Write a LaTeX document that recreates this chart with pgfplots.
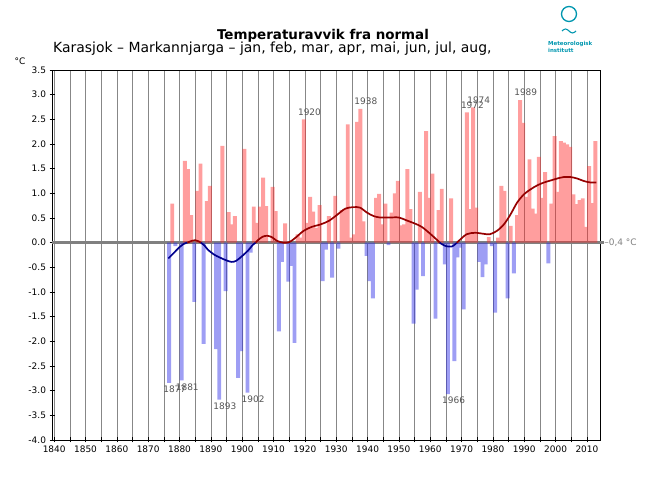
\documentclass[border=0pt]{standalone}
\usepackage{pgfplots}
\pgfplotsset{compat=1.18}
\usepackage{pgfplotstable}
\usepackage{fontspec}
\setmainfont{DejaVu Sans}
\definecolor{barred}{RGB}{255,40,40}
\definecolor{barblue}{RGB}{40,40,230}
\definecolor{curvered}{RGB}{150,0,0}
\definecolor{curveblue}{RGB}{0,0,140}
\definecolor{gridgray}{RGB}{135,135,135}
\definecolor{zerogray}{RGB}{128,128,128}
\definecolor{labgray}{RGB}{85,85,85}
\definecolor{logoteal}{RGB}{0,150,175}

\pgfplotstableread{
year val
1878 0.79
1882 1.66
1883 1.49
1884 0.56
1886 1.05
1887 1.60
1889 0.84
1890 1.15
1894 1.96
1896 0.62
1897 0.37
1898 0.54
1901 1.90
1904 0.73
1905 0.40
1906 0.73
1907 1.32
1908 0.74
1910 1.13
1911 0.64
1914 0.39
1918 0.17
1919 0.10
1920 2.50
1921 0.40
1922 0.93
1923 0.63
1924 0.30
1925 0.76
1928 0.54
1930 0.95
1932 0.66
1933 0.68
1934 2.40
1935 0.10
1936 0.17
1937 2.45
1938 2.71
1939 0.43
1943 0.91
1944 0.99
1945 0.37
1946 0.79
1948 0.61
1949 1.00
1950 1.25
1951 0.35
1952 0.37
1953 1.49
1954 0.68
1957 1.03
1959 2.26
1960 0.91
1961 1.40
1963 0.66
1964 1.09
1967 0.90
1972 2.64
1973 0.68
1974 2.74
1975 0.71
1979 0.11
1982 0.10
1983 1.15
1984 1.05
1986 0.34
1988 0.56
1989 2.89
1990 2.43
1991 0.93
1992 1.69
1993 0.69
1994 0.59
1995 1.74
1996 0.91
1997 1.43
1999 0.79
2000 2.16
2001 1.03
2002 2.06
2003 2.03
2004 1.99
2005 1.94
2006 0.98
2007 0.78
2008 0.86
2009 0.90
2010 0.32
2011 1.55
2012 0.80
2013 2.06
}\posdata

\pgfplotstableread{
year val
1877 -2.84
1879 -0.07
1881 -2.79
1885 -1.20
1888 -2.05
1892 -2.16
1893 -3.18
1895 -0.98
1899 -2.74
1900 -2.20
1902 -3.04
1903 -0.20
1912 -1.80
1913 -0.39
1915 -0.79
1916 -0.47
1917 -2.03
1926 -0.78
1927 -0.14
1929 -0.71
1931 -0.12
1940 -0.27
1941 -0.78
1942 -1.13
1947 -0.05
1955 -1.64
1956 -0.95
1958 -0.68
1962 -1.54
1965 -0.44
1966 -3.07
1968 -2.40
1969 -0.30
1970 -0.10
1971 -1.35
1976 -0.39
1977 -0.70
1978 -0.44
1980 -0.07
1981 -1.42
1985 -1.13
1987 -0.62
1998 -0.42
}\negdata

\begin{document}
\begin{tikzpicture}
\path[use as bounding box] (0bp,0bp) rectangle (650bp,500bp);

% title block
\node[anchor=base, font=\fontsize{13.5}{15}\selectfont\bfseries] at (323bp,460bp) {Temperaturavvik fra normal};
\node[anchor=base west, font=\fontsize{14}{16}\selectfont, inner sep=0] at (53bp,447bp) {Karasjok – Markannjarga – jan, feb, mar, apr, mai, jun, jul, aug,};
\node[font=\fontsize{9}{10}\selectfont] at (20bp,439bp) {°C};

% logo
\draw[logoteal, line width=1.3bp] (569bp,486bp) circle (7.5bp);
\draw[logoteal, line width=1.1bp] (562bp,469bp) sin (565.5bp,471bp) cos (569bp,469bp) sin (572.5bp,467bp) cos (576bp,469bp);
\node[anchor=base west, inner sep=0, text=logoteal, font=\fontsize{5.5}{6}\selectfont\bfseries] at (548bp,454bp) {Meteorologisk};
\node[anchor=base west, inner sep=0, text=logoteal, font=\fontsize{5.5}{6}\selectfont\bfseries] at (548bp,447bp) {institutt};

\begin{axis}[
  at={(52bp,60bp)}, anchor=south west,
  scale only axis, width=548.7bp, height=370bp,
  xmin=1839.3, xmax=2014.4, ymin=-4, ymax=3.5,
  clip=false,
  axis line style={black, line width=0.8bp},
  xtick={1840,1850,...,2010},
  minor xtick={1845,1855,...,2005},
  xmajorgrids, xminorgrids,
  major grid style={gridgray, line width=0.6bp},
  minor grid style={gridgray, line width=0.6bp},
  ytick={-4,-3.5,-3,-2.5,-2,-1.5,-1,-0.5,0,0.5,1,1.5,2,2.5,3,3.5},
  tick pos=left,
  tick align=center,
  major tick length=5bp, minor tick length=5bp,
  tick style={black, line width=0.6bp},
  /pgf/number format/assume math mode=true,
  xticklabel style={font=\fontsize{9}{10}\selectfont, /pgf/number format/1000 sep={}},
  yticklabel style={font=\fontsize{9}{10}\selectfont, /pgf/number format/.cd, fixed, fixed zerofill, precision=1},
]
% zero line
\addplot[zerogray, line width=3bp, forget plot] coordinates {(1839.3,0) (2015.5,0)};

% bars
\addplot[ybar, bar width=1.25, bar shift=-1bp, draw=none, fill=barred, fill opacity=0.45] table[x=year,y=val] {\posdata};
\addplot[ybar, bar width=1.25, bar shift=-1bp, draw=none, fill=barblue, fill opacity=0.45] table[x=year,y=val] {\negdata};

% smoothed curve
\addplot[curveblue, line width=1.7bp, smooth] coordinates {(1876.4,-0.32) (1878,-0.22) (1880,-0.09) (1881.5,-0.02) (1882.5,0)};
\addplot[curvered, line width=1.7bp, smooth] coordinates {(1882.5,0) (1884,0.04) (1885,0.05) (1886,0.03) (1886.8,0)};
\addplot[curveblue, line width=1.7bp, smooth] coordinates {(1886.8,0) (1888,-0.06) (1889,-0.14) (1891,-0.24) (1892.8,-0.30) (1895,-0.36) (1896.6,-0.39) (1898,-0.37) (1900,-0.27) (1902,-0.15) (1903.3,-0.05) (1904.3,0)};
\addplot[curvered, line width=1.7bp, smooth] coordinates {(1904.3,0) (1905,0.05) (1906.5,0.12) (1908,0.14) (1909.5,0.11) (1911,0.04) (1913,0.0) (1915,0.01) (1917,0.1) (1919.6,0.24) (1922.2,0.32) (1925,0.37) (1927.6,0.44) (1930.2,0.56) (1932.9,0.69) (1935.5,0.72) (1937.6,0.71) (1939.8,0.61) (1941.9,0.54) (1944,0.51) (1947,0.51) (1950,0.51) (1952.5,0.45) (1955,0.39) (1957.3,0.32) (1960,0.18) (1962.6,0.03) (1963,0)};
\addplot[curveblue, line width=1.7bp, smooth] coordinates {(1963,0) (1964,-0.04) (1965,-0.07) (1966.8,-0.08) (1968,-0.03) (1968.5,0)};
\addplot[curvered, line width=1.7bp, smooth] coordinates {(1968.5,0) (1969,0.03) (1971.6,0.17) (1974.3,0.2) (1977,0.18) (1979,0.17) (1981.3,0.24) (1983.5,0.37) (1985.6,0.57) (1987.7,0.81) (1989.9,0.98) (1992,1.08) (1994.1,1.16) (1996.3,1.22) (1998.4,1.26) (2000.5,1.3) (2002.6,1.33) (2004.8,1.33) (2006.9,1.3) (2009,1.25) (2011.1,1.22) (2013,1.22)};

% extreme-year labels
\tikzset{labn/.style={anchor=north west, inner sep=0, text=labgray, font=\fontsize{9}{10}\selectfont, xshift=-7bp, yshift=-3bp},
         labp/.style={anchor=south west, inner sep=0, text=labgray, font=\fontsize{9}{10}\selectfont, xshift=-7bp, yshift=4bp}}
\node[labn] at (axis cs:1877,-2.84) {1877};
\node[labn] at (axis cs:1881,-2.79) {1881};
\node[labn] at (axis cs:1893,-3.18) {1893};
\node[labn] at (axis cs:1902,-3.04) {1902};
\node[labn] at (axis cs:1966,-3.07) {1966};
\node[labp] at (axis cs:1920,2.50) {1920};
\node[labp] at (axis cs:1938,2.71) {1938};
\node[labp] at (axis cs:1972,2.64) {1972};
\node[labp] at (axis cs:1974,2.74) {1974};
\node[labp] at (axis cs:1989,2.89) {1989};

\node[anchor=west, inner sep=0, text=zerogray, font=\fontsize{9}{10}\selectfont] at (axis cs:2015.5,0) {–0,4 °C};
\end{axis}
\end{tikzpicture}
\end{document}
